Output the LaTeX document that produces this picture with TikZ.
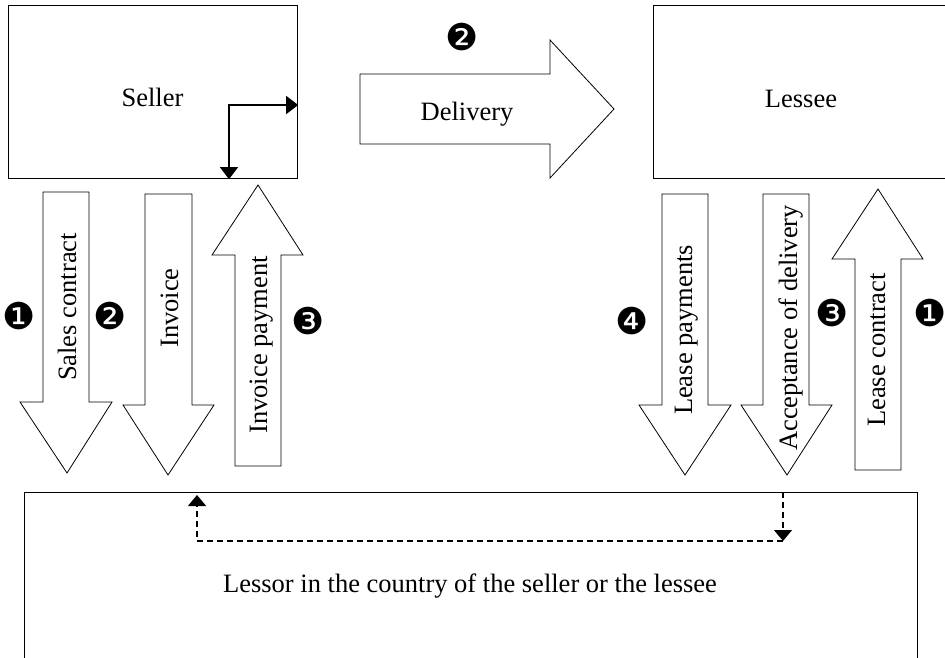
\documentclass[tikz,border=0pt]{standalone}
\usepackage{fontspec}
\setmainfont{Liberation Serif}
\newfontfamily\dingfont{DejaVu Sans}
\usetikzlibrary{arrows.meta}
\begin{document}
\begin{tikzpicture}[x=1pt,y=-1pt,
  box/.style={draw, line width=1.2pt, inner sep=0pt, anchor=north west},
  blk/.style={draw, line width=0.8pt, fill=white, line join=miter},
  lbl/.style={font=\fontsize{26.5}{30}\selectfont, anchor=base, inner sep=0pt},
  vlbl/.style={lbl, rotate=90},
  num/.style={font=\dingfont\fontsize{37}{37}\selectfont, inner sep=0pt},
  bent/.style={line width=1.3pt, {Triangle[length=12pt,width=18pt]}-{Triangle[length=12pt,width=18pt]}},
  dasharrow/.style={line width=1.2pt, dash pattern=on 6pt off 4pt, -{Triangle[length=11pt,width=18pt]}}
]
\useasboundingbox (0,0) rectangle (945,657);
\clip (0,0) rectangle (945,657);
\fill[white] (0,0) rectangle (945,657);

% boxes
\node[box, minimum width=289, minimum height=173] (seller) at (8,5) {};
\node[box, minimum width=295, minimum height=173] (lessee) at (653,5) {};
\node[box, minimum width=893, minimum height=220] (lessor) at (24,492) {};

\node[lbl] (sellerT) at (152.5,106) {Seller};
\node[lbl] (lesseeT) at (801,107) {Lessee};
\node[lbl] (lessorT) at (470,592) {Lessor in the country of the seller or the lessee};

% bent arrow inside seller
\coordinate (bend) at (229,105);
\draw[bent] (seller.south -| bend) |- (seller.east |- bend);

% delivery arrow
\draw[blk] (360,74) -- (550,74) -- (550,40) -- (614,109) -- (550,178) -- (550,144) -- (360,144) -- cycle;
\node[lbl] (deliveryT) at (467,120) {Delivery};

% left block arrows
\draw[blk] (43,192) -- (89,192) -- (89,402) -- (112,402) -- (67,473) -- (20,402) -- (43,402) -- cycle;
\node[vlbl] (salesT) at (76,307) {Sales contract};
\draw[blk] (145,194) -- (192,194) -- (192,405) -- (214,405) -- (168,475) -- (123,405) -- (145,405) -- cycle;
\node[vlbl] (invoiceT) at (178,308) {Invoice};
\draw[blk] (258,185) -- (303,255) -- (281,255) -- (281,466) -- (235,466) -- (235,255) -- (212,255) -- cycle;
\node[vlbl] (invpayT) at (267,345) {Invoice payment};

% right block arrows
\draw[blk] (662,194) -- (708,194) -- (708,405) -- (731,405) -- (685,475) -- (639,405) -- (662,405) -- cycle;
\node[vlbl] (leasepayT) at (692,330) {Lease payments};
\draw[blk] (763,194) -- (809,194) -- (809,405) -- (832,405) -- (787,475) -- (741,405) -- (763,405) -- cycle;
\node[vlbl] (acceptT) at (797,328) {Acceptance of delivery};
\draw[blk] (878,189) -- (923,259) -- (901,259) -- (901,470) -- (855,470) -- (855,259) -- (832,259) -- cycle;
\node[vlbl] (leasecT) at (885,350) {Lease contract};

% numbers
\node[num] (n2top) at (462,37) {❷};
\node[num] (n1l) at (19,316) {❶};
\node[num] (n2l) at (110,316) {❷};
\node[num] (n3l) at (308,321) {❸};
\node[num] (n4r) at (632,321) {❹};
\node[num] (n3r) at (832,313) {❸};
\node[num] (n1r) at (930,313) {❶};

% dashed arrows in lessor box
\coordinate (d1) at (783,541);
\coordinate (d2) at (197,541);
\coordinate (d3) at (197,495);
\draw[dasharrow] (lessor.north -| d1) -- (d1);
\draw[dasharrow] (d1) -- (d2) -- (d3);
\end{tikzpicture}
\end{document}
